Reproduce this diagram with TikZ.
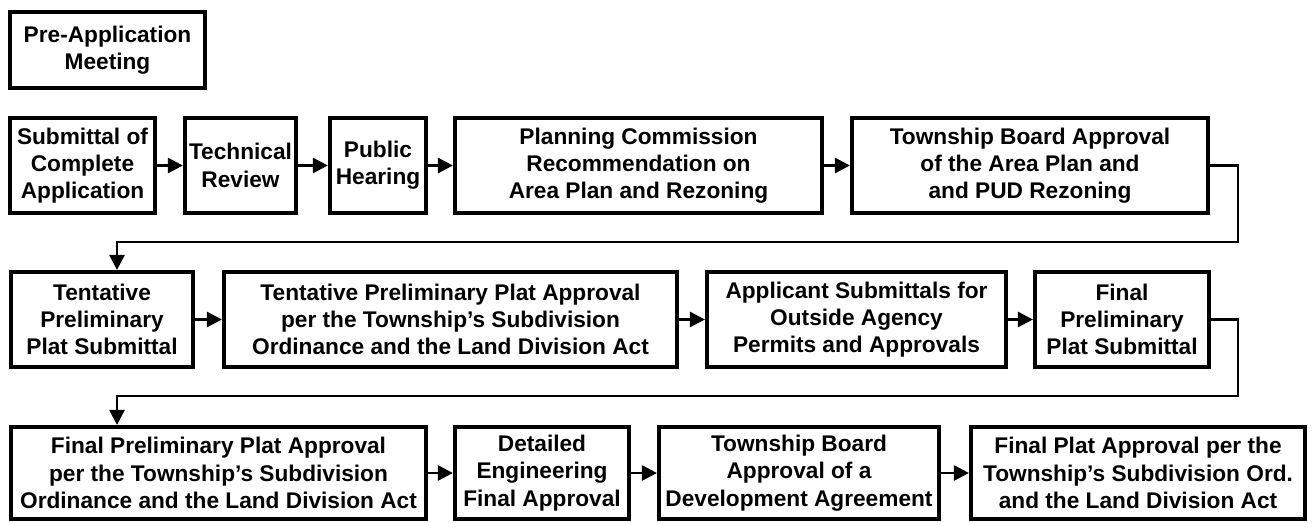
\documentclass[tikz,border=0pt]{standalone}
\usepackage{fontspec}
\setmainfont{Liberation Sans}
\usepackage{tikz}
\usetikzlibrary{arrows.meta}

\begin{document}
\begin{tikzpicture}[
    box/.style={rectangle, draw=black, line width=2.4pt, align=center, inner sep=1pt, minimum height=1.9cm,
        font=\fontsize{12.9}{15.5}\selectfont\bfseries},
    flow/.style={line width=1.6pt, -{Triangle[length=0.3cm,width=0.3cm]}}
]
\useasboundingbox (0,0) rectangle (26.28,-10.46);

% Pre-application (top)
\node[box, minimum width=3.9cm, minimum height=1.52cm] (preapp) at (2.15,-1.00) {Pre-Application\\Meeting};

% First row
\node[box, minimum width=2.9cm] (submittal) at (1.65,-3.31) {Submittal of\\Complete\\Application};
\node[box, minimum width=2.22cm] (techreview) at (4.81,-3.31) {Technical\\Review};
\node[box, minimum width=1.92cm] (hearing) at (7.56,-3.31) {Public\\Hearing};
\node[box, minimum width=7.34cm] (plancomm) at (12.77,-3.31) {Planning Commission\\Recommendation on\\Area Plan and Rezoning};
\node[box, minimum width=7.12cm] (boardpud) at (20.60,-3.31) {Township Board Approval\\of the Area Plan and\\and PUD Rezoning};

% Second row
\node[box, minimum width=3.64cm] (tentsub) at (2.04,-6.39) {Tentative\\Preliminary\\Plat Submittal};
\node[box, minimum width=9.06cm] (tentapp) at (9.01,-6.39) {Tentative Preliminary Plat Approval\\per the Township’s Subdivision\\Ordinance and the Land Division Act};
\node[box, minimum width=5.98cm] (permits) at (17.13,-6.39) {Applicant Submittals for\\Outside Agency\\Permits and Approvals};
\node[box, minimum width=3.48cm] (finalsub) at (22.44,-6.39) {Final\\Preliminary\\Plat Submittal};

% Third row
\node[box, minimum width=8.3cm, minimum height=1.84cm] (finalapp) at (4.37,-9.46) {Final Preliminary Plat Approval\\per the Township’s Subdivision\\Ordinance and the Land Division Act};
\node[box, minimum width=3.48cm, minimum height=1.84cm] (engineering) at (10.84,-9.46) {Detailed\\Engineering\\Final Approval};
\node[box, minimum width=5.6cm, minimum height=1.84cm] (devagree) at (15.98,-9.46) {Township Board\\Approval of a\\Development Agreement};
\node[box, minimum width=6.68cm, minimum height=1.84cm] (finalplat) at (22.76,-9.46) {Final Plat Approval per the\\Township’s Subdivision Ord.\\and the Land Division Act};

% Turn points of the wrap-around connectors
\coordinate (wrapR1) at (24.76,-4.84);
\coordinate (wrapL1) at (2.34,-4.84);
\coordinate (wrapR2) at (24.76,-7.92);
\coordinate (wrapL2) at (2.34,-7.92);

% Row connections
\draw[flow] (submittal) -- (techreview);
\draw[flow] (techreview) -- (hearing);
\draw[flow] (hearing) -- (plancomm);
\draw[flow] (plancomm) -- (boardpud);

\draw[flow] (tentsub) -- (tentapp);
\draw[flow] (tentapp) -- (permits);
\draw[flow] (permits) -- (finalsub);

\draw[flow] (finalapp) -- (engineering);
\draw[flow] (engineering) -- (devagree);
\draw[flow] (devagree) -- (finalplat);

% Wrap to next row
\draw[flow] (boardpud.east) -| (wrapR1) -- (wrapL1) -- (wrapL1 |- tentsub.north);
\draw[flow] (finalsub.east) -| (wrapR2) -- (wrapL2) -- (wrapL2 |- finalapp.north);

\end{tikzpicture}
\end{document}
